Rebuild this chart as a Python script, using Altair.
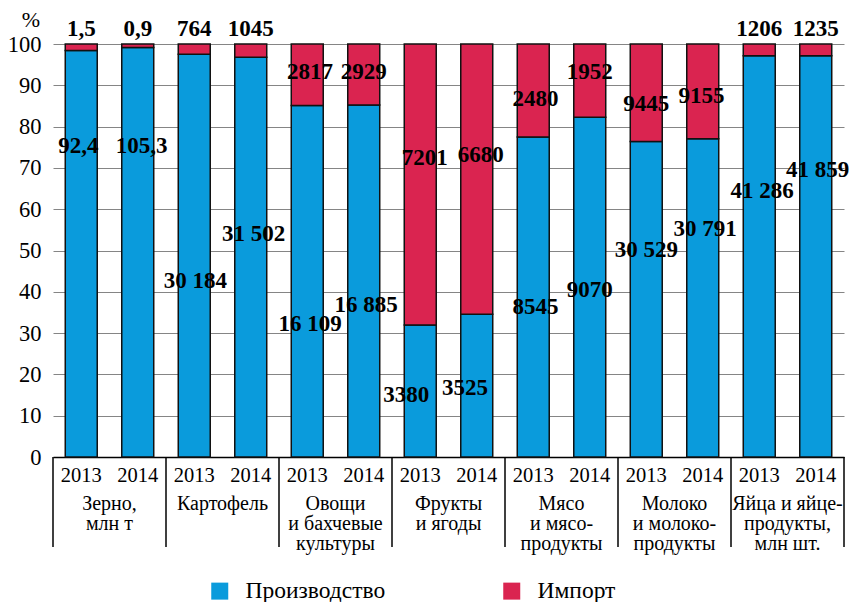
import altair as alt
import pandas as pd

# ---------------- data ----------------
groups = ["Зерно,\nмлн т", "Картофель", "Овощи\nи бахчевые\nкультуры", "Фрукты\nи ягоды",
          "Мясо\nи мясо-\nпродукты", "Молоко\nи молоко-\nпродукты", "Яйца и яйце-\nпродукты,\nмлн шт."]
years = ["2013", "2014"]
production = [92.4, 105.3, 30184, 31502, 16109, 16885, 3380, 3525, 8545, 9070, 30529, 30791, 41286, 41859]
imports = [1.5, 0.9, 764, 1045, 2817, 2929, 7201, 6680, 2480, 1952, 9445, 9155, 1206, 1235]
prod_text = ["92,4", "105,3", "30 184", "31 502", "16 109", "16 885", "3380", "3525",
             "8545", "9070", "30 529", "30 791", "41 286", "41 859"]
imp_text = ["1,5", "0,9", "764", "1045", "2817", "2929", "7201", "6680",
            "2480", "1952", "9445", "9155", "1206", "1235"]
# label heights (in % of the axis)
prod_label_at = [75.2, 75.2, 42.7, 53.9, 32.1, 36.8, 14.9, 16.8, 36.4, 40.4, 50.1, 55.2, 64.4, 69.5]
imp_label_at = [103.7, 103.7, 103.7, 103.7, 93.1, 93.1, 72.5, 73.2, 86.6, 93.2, 85.4, 87.5, 103.7, 103.7]
# small sideways shifts of the labels (in bar slots)
prod_label_shift = [-0.05, 0.07, 0.02, 0.05, 0.05, 0.04, -0.25, -0.21, 0.04, 0.0, 0.0, 0.04, 0.05, 0.035]
imp_label_shift = [0.0, 0.0, 0.0, 0.0, 0.05, 0.0, 0.08, 0.07, 0.04, 0.0, 0.0, -0.02, 0.0, 0.0]
series = ["Производство", "Импорт"]

BLUE = "#0a9bdc"
RED = "#da2450"
FONT = "Liberation Serif"

# ---------------- tables ----------------
n = len(production)
bar_rows = []
for i in range(n):
    bar_rows.append({"idx": i, "series": series[0], "ord": 0, "value": production[i]})
    bar_rows.append({"idx": i, "series": series[1], "ord": 1, "value": imports[i]})
bars_df = pd.DataFrame(bar_rows)

lab_rows = []
for i in range(n):
    lab_rows.append({"idx": i, "text": prod_text[i], "at": prod_label_at[i], "shift": prod_label_shift[i]})
    lab_rows.append({"idx": i, "text": imp_text[i], "at": imp_label_at[i], "shift": imp_label_shift[i]})
lab_df = pd.DataFrame(lab_rows)

year_df = pd.DataFrame({"idx": list(range(n)), "year": [years[i % 2] for i in range(n)]})
group_df = pd.DataFrame({"g": list(range(len(groups))), "name": groups})
sep_df = pd.DataFrame({"b": list(range(len(groups) + 1))})

xscale = alt.Scale(domain=[0, n], nice=False, zero=False)
yscale = alt.Scale(domain=[0, 100], nice=False)
xaxis = alt.Axis(labels=False, ticks=False, grid=False, title=None,
                 domainColor="#000000", domainWidth=1.5)
yaxis = alt.Axis(values=list(range(0, 101, 10)), grid=True, gridColor="#858585", gridWidth=1,
                 domain=False, ticks=False, labelFont=FONT, labelFontSize=22.5,
                 labelColor="#000000", labelPadding=12, title=None)

bars = alt.Chart(bars_df).transform_joinaggregate(
    total="sum(value)", groupby=["idx"]
).transform_calculate(
    pct="datum.value / datum.total * 100",
    x0="datum.idx + 0.217",
    x1="datum.idx + 0.783",
).transform_stack(
    stack="pct", groupby=["idx"], as_=["y0", "y1"], sort=[alt.SortField("ord", order="ascending")]
).mark_bar(stroke="#111111", strokeWidth=1.5).encode(
    x=alt.X("x0:Q", scale=xscale, axis=xaxis),
    x2="x1:Q",
    y=alt.Y("y0:Q", scale=yscale, axis=yaxis),
    y2="y1:Q",
    color=alt.Color("series:N", scale=alt.Scale(domain=series, range=[BLUE, RED]),
                    legend=alt.Legend(orient="none", legendX=155, legendY=535, direction="horizontal",
                                      title=None, symbolType="square", symbolSize=289,
                                      symbolStrokeWidth=0, labelFont=FONT, labelFontSize=23.5,
                                      labelColor="#000000", labelOffset=14, columnPadding=114)),
)

labels = alt.Chart(lab_df).transform_calculate(
    xc="datum.idx + 0.5 + datum.shift"
).mark_text(font=FONT, fontWeight="bold", fontSize=23, baseline="middle", color="#000000").encode(
    x=alt.X("xc:Q", scale=xscale, axis=xaxis),
    y=alt.Y("at:Q", scale=yscale, axis=yaxis),
    text="text:N",
)

year_labels = alt.Chart(year_df).transform_calculate(
    xc="datum.idx + 0.5"
).mark_text(font=FONT, fontSize=20.5, baseline="alphabetic", color="#000000").encode(
    x=alt.X("xc:Q", scale=xscale, axis=xaxis),
    y=alt.value(438),
    text="year:N",
)

group_labels = alt.Chart(group_df).transform_calculate(
    xc="datum.g * 2 + 1"
).mark_text(font=FONT, fontSize=20, lineHeight=20, lineBreak="\n", baseline="alphabetic",
            color="#000000").encode(
    x=alt.X("xc:Q", scale=xscale, axis=xaxis),
    y=alt.value(466),
    text="name:N",
)

separators = alt.Chart(sep_df).transform_calculate(
    xb="datum.b * 2"
).mark_rule(color="#000000", strokeWidth=1.5).encode(
    x=alt.X("xb:Q", scale=xscale, axis=xaxis),
    y=alt.value(413),
    y2=alt.value(503),
)

percent = alt.Chart(pd.DataFrame({"t": ["%"]})).mark_text(
    font=FONT, fontSize=22, baseline="middle", color="#000000"
).encode(x=alt.value(-22), y=alt.value(-24), text="t:N")

chart = alt.layer(bars, separators, labels, year_labels, group_labels, percent).properties(
    width=791, height=413, autosize="none",
    padding={"left": 45, "top": 36, "right": 5, "bottom": 145},
).configure_view(stroke=None).configure_axis(
    labelFont=FONT
).configure_text(font=FONT).configure_legend(labelFont=FONT)

chart.save("out.html", embed_options={"renderer": "svg", "actions": False})
